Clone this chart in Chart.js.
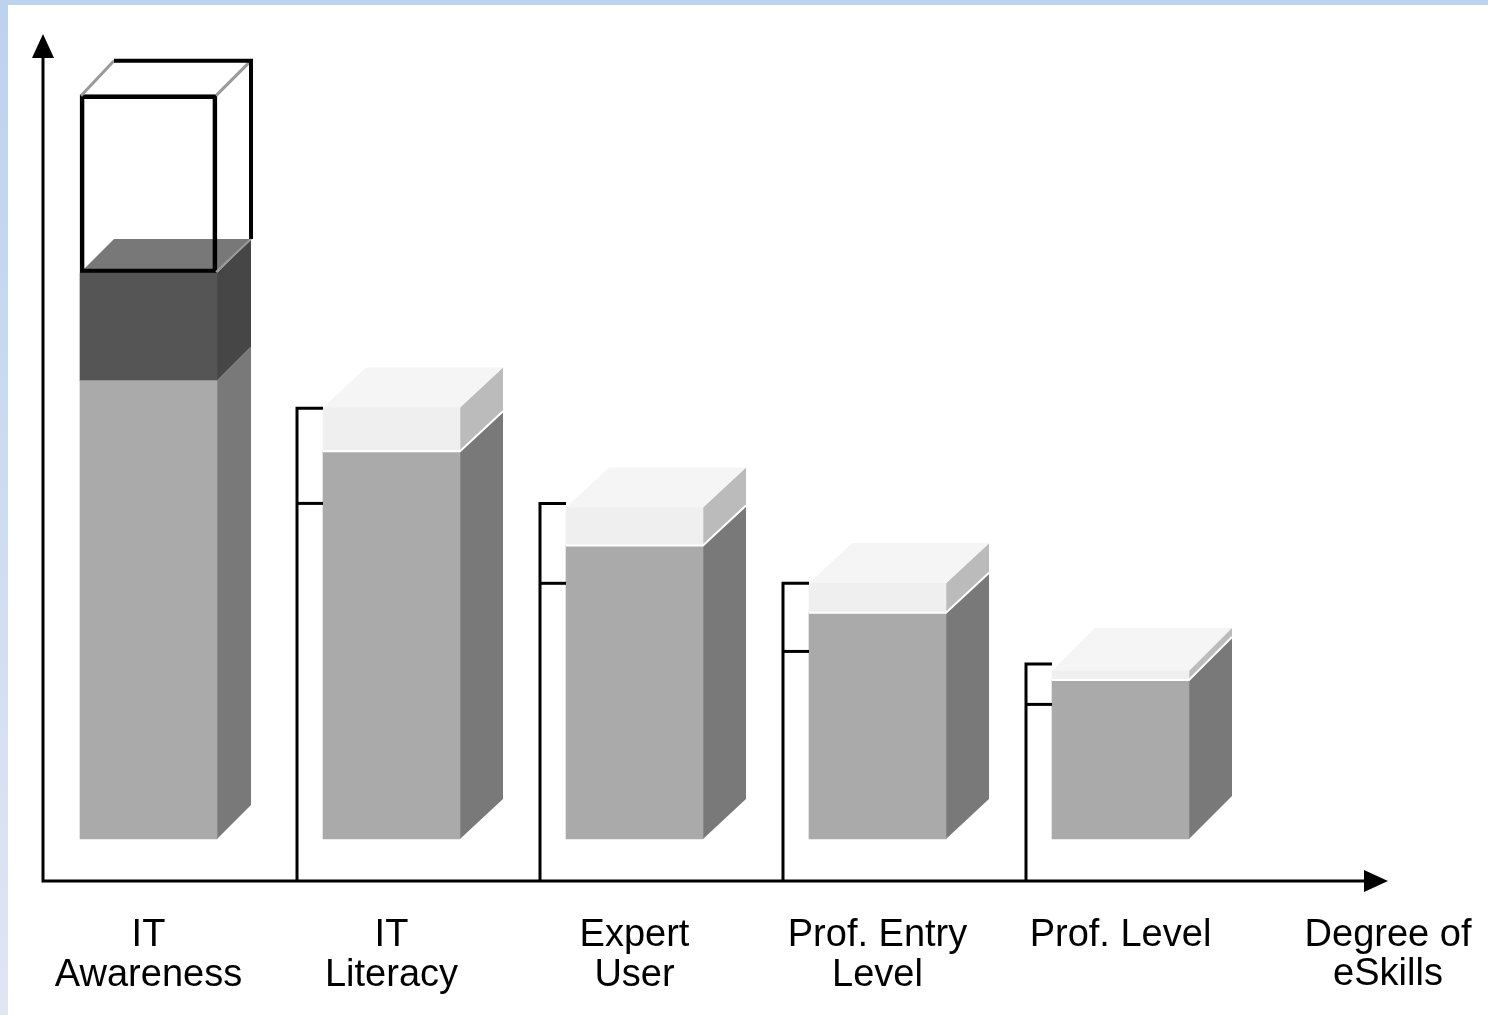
<!DOCTYPE html>
<html>
<head>
<meta charset="utf-8">
<title>Degree of eSkills</title>
<script src="https://cdn.jsdelivr.net/npm/chart.js@4.4.1/dist/chart.umd.min.js"></script>
<style>
  html, body { margin: 0; padding: 0; background: #fff; }
  #wrap { position: relative; width: 1488px; height: 1015px; overflow: hidden; }
  #skillChart { position: absolute; left: 0; top: 0; }
  #topStrip { position: absolute; left: 0; top: 0; width: 1488px; height: 5px; background: #bdd3ef; }
  #leftStrip { position: absolute; left: 0; top: 0; width: 8px; height: 1015px; background: linear-gradient(#bcd2ee, #e0e6f2); }
</style>
</head>
<body>
<div id="wrap">
  <canvas id="skillChart" width="1488" height="1015"></canvas>
  <div id="topStrip"></div>
  <div id="leftStrip"></div>
</div>
<script>
// data (abstract height units, 0 = x axis)
const categories = [["IT", "Awareness"], ["IT", "Literacy"], ["Expert", "User"], ["Prof. Entry", "Level"], "Prof. Level"];
const axisTitle = ["Degree of", "eSkills"];
const barFloor = 5;
const coreLevel = [59.5, 51.1, 39.9, 31.9, 23.9];
const upperLevel = [72.3, 56.3, 44.4, 35.4, 25.0];
const potentialLevel = [93.5, null, null, null, null];
const bracketHigh = [null, 56.2, 44.9, 35.4, 25.8];
const bracketLow = [null, 44.9, 35.4, 27.3, 21.0];

// 3d look
const depthX = [34, 43, 43, 43, 43];
const depthY = [34, 40, 40, 40, 43];
const labelFont = { family: "'Liberation Sans', Arial, sans-serif", size: 38, lineHeight: 1.05 };

function poly(ctx, pts, fill) {
  ctx.beginPath();
  ctx.moveTo(pts[0][0], pts[0][1]);
  for (let k = 1; k < pts.length; k++) ctx.lineTo(pts[k][0], pts[k][1]);
  ctx.closePath();
  ctx.fillStyle = fill;
  ctx.fill();
}

function strokeLine(ctx, pts, color, w) {
  ctx.beginPath();
  ctx.moveTo(pts[0][0], pts[0][1]);
  for (let k = 1; k < pts.length; k++) ctx.lineTo(pts[k][0], pts[k][1]);
  ctx.strokeStyle = color;
  ctx.lineWidth = w;
  ctx.lineJoin = "miter";
  ctx.stroke();
}

function barBox(bar, i) {
  return {
    l: bar.x - bar.width / 2,
    r: bar.x + bar.width / 2,
    t: Math.min(bar.y, bar.base),
    b: Math.max(bar.y, bar.base),
    dx: depthX[i],
    dy: depthY[i]
  };
}

const cubePlugin = {
  id: "cubes",
  beforeDatasetsDraw(chart) {
    const ctx = chart.ctx;
    ctx.save();
    chart.data.datasets.forEach((ds, d) => {
      if (!ds.sideColor) return;
      chart.getDatasetMeta(d).data.forEach((bar, i) => {
        if (ds.data[i] == null) return;
        const c = barBox(bar, i);
        // right side face
        poly(ctx, [[c.r, c.t], [c.r + c.dx, c.t - c.dy], [c.r + c.dx, c.b - c.dy], [c.r, c.b]], ds.sideColor[i]);
        // top face
        if (ds.topColor) {
          poly(ctx, [[c.l, c.t], [c.l + c.dx, c.t - c.dy], [c.r + c.dx, c.t - c.dy], [c.r, c.t]], ds.topColor[i]);
        }
      });
    });
    ctx.restore();
  },
  afterDatasetsDraw(chart) {
    const ctx = chart.ctx;
    const y = chart.scales.y;
    const area = chart.chartArea;
    const axisY = y.getPixelForValue(0);
    const axisX = area.left + 16;
    ctx.save();
    ctx.lineCap = "butt";

    chart.data.datasets.forEach((ds, d) => {
      chart.getDatasetMeta(d).data.forEach((bar, i) => {
        if (ds.data[i] == null) return;
        const c = barBox(bar, i);
        // white seam under the light lids
        if (ds.seam && ds.seam[i]) {
          strokeLine(ctx, [[c.l, c.b], [c.r, c.b], [c.r + c.dx, c.b - c.dy]], "#ffffff", 2);
        }
        // wire frame of the empty box
        if (ds.wire) {
          strokeLine(ctx, [[c.l + 1, c.t + 1], [c.l + c.dx, c.t - c.dy]], "#9a9a9a", 3);
          strokeLine(ctx, [[c.r - 1, c.t + 1], [c.r + c.dx, c.t - c.dy]], "#9a9a9a", 3);
          strokeLine(ctx, [[c.r - 1, c.b - 1], [c.r + c.dx, c.b - c.dy]], "#9a9a9a", 2);
          strokeLine(ctx, [[c.l + c.dx, c.t - c.dy], [c.r + c.dx, c.t - c.dy], [c.r + c.dx, c.b - c.dy]], "#000000", 4);
        }
      });
    });

    // brackets in front of each bar
    const coreMeta = chart.getDatasetMeta(0);
    bracketHigh.forEach((hi, i) => {
      if (hi == null) return;
      const bar = coreMeta.data[i];
      const left = bar.x - bar.width / 2;
      const bx = left - 26;
      const yHi = y.getPixelForValue(hi);
      const yLo = y.getPixelForValue(bracketLow[i]);
      strokeLine(ctx, [[left, yHi], [bx, yHi], [bx, axisY]], "#000000", 3);
      strokeLine(ctx, [[bx, yLo], [left, yLo]], "#000000", 3);
    });

    // axes with arrows
    const xEnd = area.right + 146;
    strokeLine(ctx, [[axisX, 56], [axisX, axisY], [xEnd - 20, axisY]], "#000000", 3);
    poly(ctx, [[axisX, 34], [axisX - 11, 58], [axisX + 11, 58]], "#000000");
    poly(ctx, [[xEnd, axisY], [xEnd - 24, axisY - 11], [xEnd - 24, axisY + 11]], "#000000");

    // axis title at the arrow end
    const lh = labelFont.size * labelFont.lineHeight;
    ctx.font = labelFont.size + "px " + labelFont.family;
    ctx.fillStyle = "#000000";
    ctx.textAlign = "center";
    ctx.textBaseline = "middle";
    axisTitle.forEach((txt, k) => {
      ctx.fillText(txt, xEnd, axisY + 54 + k * lh);
    });
    ctx.restore();
  }
};

const ctx = document.getElementById("skillChart");

new Chart(ctx, {
  type: "bar",
  data: {
    labels: categories,
    datasets: [
      {
        label: "Core",
        data: coreLevel.map((v) => [barFloor, v]),
        backgroundColor: "#aaaaaa",
        sideColor: ["#797979", "#797979", "#797979", "#797979", "#797979"],
        borderWidth: 0
      },
      {
        label: "Upper",
        data: upperLevel.map((v, i) => [coreLevel[i], v]),
        backgroundColor: ["#555555", "#efefef", "#efefef", "#efefef", "#efefef"],
        sideColor: ["#464646", "#bbbbbb", "#bbbbbb", "#bbbbbb", "#bbbbbb"],
        topColor: ["#787878", "#f5f5f5", "#f5f5f5", "#f5f5f5", "#f5f5f5"],
        seam: [false, true, true, true, true],
        borderWidth: 0
      },
      {
        label: "Potential",
        data: potentialLevel.map((v, i) => (v == null ? null : [upperLevel[i], v])),
        backgroundColor: "rgba(0,0,0,0)",
        borderColor: "#000000",
        borderWidth: 4,
        borderSkipped: false,
        wire: true
      }
    ]
  },
  options: {
    responsive: false,
    animation: false,
    layout: { padding: { left: 27, right: 246, top: 40, bottom: 14 } },
    datasets: { bar: { grouped: false, barThickness: 137 } },
    plugins: {
      legend: { display: false },
      tooltip: { enabled: false }
    },
    scales: {
      x: {
        grid: { display: false },
        border: { display: false },
        ticks: { color: "#000000", font: labelFont, padding: 6, maxRotation: 0, autoSkip: false }
      },
      y: {
        display: false,
        min: -2.4,
        max: 100
      }
    }
  },
  plugins: [cubePlugin]
});
</script>
</body>
</html>
